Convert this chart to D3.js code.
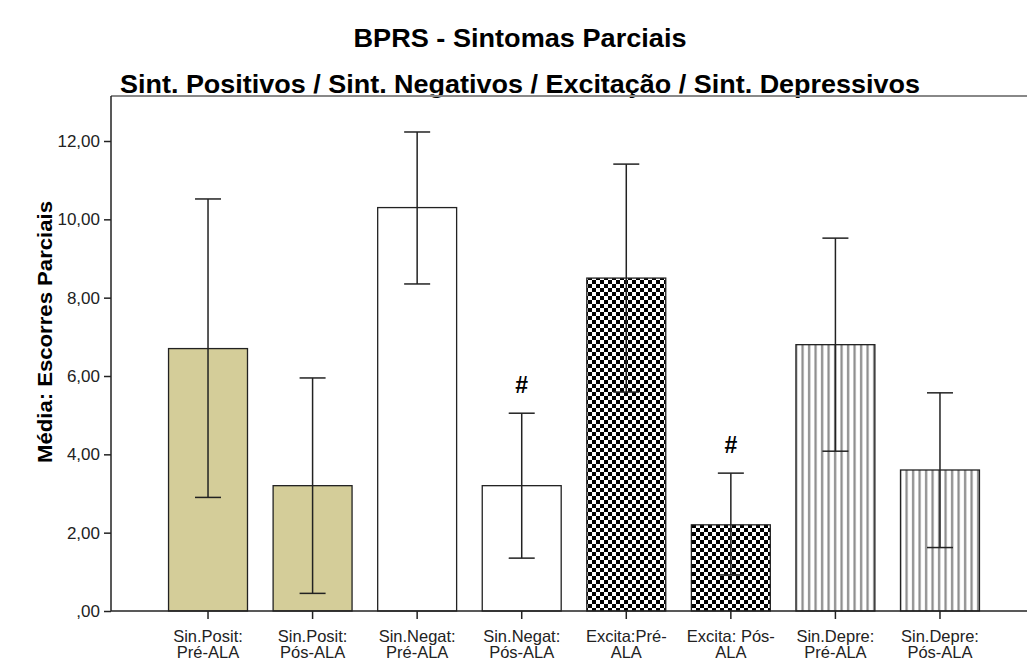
<!DOCTYPE html>
<html>
<head>
<meta charset="utf-8">
<script src="https://cdn.jsdelivr.net/npm/d3@7"></script>
<style>
  body { margin: 0; background: #fff; }
  text { font-family: Arial, "Liberation Sans", sans-serif; }
</style>
</head>
<body>
<div id="chart"></div>
<script>
// chart values
var categories = ["Sin.Posit: Pré-ALA", "Sin.Posit: Pós-ALA", "Sin.Negat: Pré-ALA", "Sin.Negat: Pós-ALA",
                  "Excita:Pré- ALA", "Excita: Pós- ALA", "Sin.Depre: Pré-ALA", "Sin.Depre: Pós-ALA"]
var labelLines = [["Sin.Posit:", "Pré-ALA"], ["Sin.Posit:", "Pós-ALA"], ["Sin.Negat:", "Pré-ALA"], ["Sin.Negat:", "Pós-ALA"],
                  ["Excita:Pré-", "ALA"], ["Excita: Pós-", "ALA"], ["Sin.Depre:", "Pré-ALA"], ["Sin.Depre:", "Pós-ALA"]]
var means = [6.7, 3.2, 10.3, 3.2, 8.5, 2.2, 6.8, 3.6]
var errLow = [2.9, 0.45, 8.35, 1.35, 5.59, 0.92, 4.08, 1.62]
var errHigh = [10.52, 5.95, 12.23, 5.05, 11.41, 3.52, 9.52, 5.57]
var fills = ["tan", "tan", "white", "white", "checker", "checker", "stripes", "stripes"]
var marks = ["", "", "", "#", "", "#", "", ""]
var yTicks = [0, 2, 4, 6, 8, 10, 12]

var svg = d3.select("#chart")
    .append("svg")
    .attr("width", 1027)
    .attr("height", 661)

var defs = svg.append("defs")

var checker = defs.append("pattern")
    .attr("id", "checker")
    .attr("patternUnits", "userSpaceOnUse")
    .attr("width", 8).attr("height", 8)
checker.append("rect").attr("width", 8).attr("height", 8).style("fill", "white")
checker.append("rect").attr("width", 4).attr("height", 4).style("fill", "black")
checker.append("rect").attr("x", 4).attr("y", 4).attr("width", 4).attr("height", 4).style("fill", "black")

var stripes = defs.append("pattern")
    .attr("id", "stripes")
    .attr("patternUnits", "userSpaceOnUse")
    .attr("width", 6.5).attr("height", 10)
stripes.append("rect").attr("width", 6.5).attr("height", 10).style("fill", "white")
stripes.append("rect").attr("x", 2).attr("width", 2.2).attr("height", 10).style("fill", "#8a8a8a")

var fillOf = {
    tan: "#d4cd99",
    white: "white",
    checker: "url(#checker)",
    stripes: "url(#stripes)"
}

var x = d3.scaleBand()
    .domain(categories)
    .range([156, 992])
    .paddingInner(0.245)
    .paddingOuter(0.12)

var y = d3.scaleLinear()
    .domain([0, 12])
    .range([611, 141])

// titles
svg.append("text")
    .attr("x", 520).attr("y", 47)
    .attr("text-anchor", "middle")
    .attr("textLength", 333).attr("lengthAdjust", "spacingAndGlyphs")
    .style("font-size", "25px").style("font-weight", "bold")
    .text("BPRS - Sintomas Parciais")

svg.append("text")
    .attr("x", 520).attr("y", 93)
    .attr("text-anchor", "middle")
    .attr("textLength", 800).attr("lengthAdjust", "spacingAndGlyphs")
    .style("font-size", "26px").style("font-weight", "bold")
    .text("Sint. Positivos / Sint. Negativos / Excitação / Sint. Depressivos")

svg.append("text")
    .attr("transform", "translate(52,332) rotate(-90)")
    .attr("text-anchor", "middle")
    .attr("textLength", 262).attr("lengthAdjust", "spacingAndGlyphs")
    .style("font-size", "20px").style("font-weight", "bold")
    .text("Média: Escorres Parciais")

// top frame line
svg.append("line")
    .attr("x1", 111).attr("x2", 1027)
    .attr("y1", 96).attr("y2", 96)
    .style("stroke", "#888").style("stroke-width", 2)

// bars
var barGroup = svg.append("g").attr("class", "bars")
barGroup.selectAll("rect")
    .data(means)
    .enter()
    .append("rect")
    .attr("x", function (d, i) { return x(categories[i]) })
    .attr("y", function (d) { return y(d) })
    .attr("width", x.bandwidth())
    .attr("height", function (d) { return y(0) - y(d) })
    .style("fill", function (d, i) { return fillOf[fills[i]] })
    .style("stroke", "#222")
    .style("stroke-width", 1.3)

// error bars
var errGroup = svg.append("g").attr("class", "errors")
    .style("stroke", "#222").style("stroke-width", 1.5)
errGroup.selectAll("line.stem")
    .data(means)
    .enter()
    .append("line")
    .attr("class", "stem")
    .attr("x1", function (d, i) { return x(categories[i]) + x.bandwidth() / 2 })
    .attr("x2", function (d, i) { return x(categories[i]) + x.bandwidth() / 2 })
    .attr("y1", function (d, i) { return y(errLow[i]) })
    .attr("y2", function (d, i) { return y(errHigh[i]) })
errGroup.selectAll("line.capHi")
    .data(means)
    .enter()
    .append("line")
    .attr("class", "capHi")
    .attr("x1", function (d, i) { return x(categories[i]) + x.bandwidth() / 2 - 13 })
    .attr("x2", function (d, i) { return x(categories[i]) + x.bandwidth() / 2 + 13 })
    .attr("y1", function (d, i) { return y(errHigh[i]) })
    .attr("y2", function (d, i) { return y(errHigh[i]) })
errGroup.selectAll("line.capLo")
    .data(means)
    .enter()
    .append("line")
    .attr("class", "capLo")
    .attr("x1", function (d, i) { return x(categories[i]) + x.bandwidth() / 2 - 13 })
    .attr("x2", function (d, i) { return x(categories[i]) + x.bandwidth() / 2 + 13 })
    .attr("y1", function (d, i) { return y(errLow[i]) })
    .attr("y2", function (d, i) { return y(errLow[i]) })

// significance marks
svg.append("g").selectAll("text")
    .data(marks)
    .enter()
    .append("text")
    .attr("x", function (d, i) { return x(categories[i]) + x.bandwidth() / 2 })
    .attr("y", function (d, i) { return y(errHigh[i]) - 20 })
    .attr("text-anchor", "middle")
    .style("font-size", "23px").style("font-weight", "bold")
    .text(function (d) { return d })

// y axis
var yAxis = svg.append("g")
    .attr("transform", "translate(111,0)")
    .call(d3.axisLeft(y).tickValues(yTicks).tickSize(7).tickPadding(4)
        .tickFormat(function (d) { return d === 0 ? ",00" : d3.format(".2f")(d).replace(".", ",") }))
yAxis.select(".domain").attr("d", "M0,96V611").style("stroke", "#222").style("stroke-width", 1.5)
yAxis.selectAll(".tick line").style("stroke", "#222").style("stroke-width", 1.5)
yAxis.selectAll(".tick text").style("font-size", "17px").style("fill", "#222")

// x axis
var xAxis = svg.append("g")
    .attr("transform", "translate(0,611)")
    .call(d3.axisBottom(x).tickSize(8).tickFormat(""))
xAxis.select(".domain").attr("d", "M111,0H1027").style("stroke", "#222").style("stroke-width", 1.5)
xAxis.selectAll(".tick line").style("stroke", "#222").style("stroke-width", 1.5)
xAxis.selectAll(".tick").each(function (d, i) {
    var t = d3.select(this).append("text")
        .attr("text-anchor", "middle")
        .style("font-size", "16.5px").style("fill", "#222")
    t.selectAll("tspan")
        .data(labelLines[i])
        .enter()
        .append("tspan")
        .attr("x", 0)
        .attr("y", function (s, j) { return 31 + j * 16 })
        .text(function (s) { return s })
})
</script>
</body>
</html>
